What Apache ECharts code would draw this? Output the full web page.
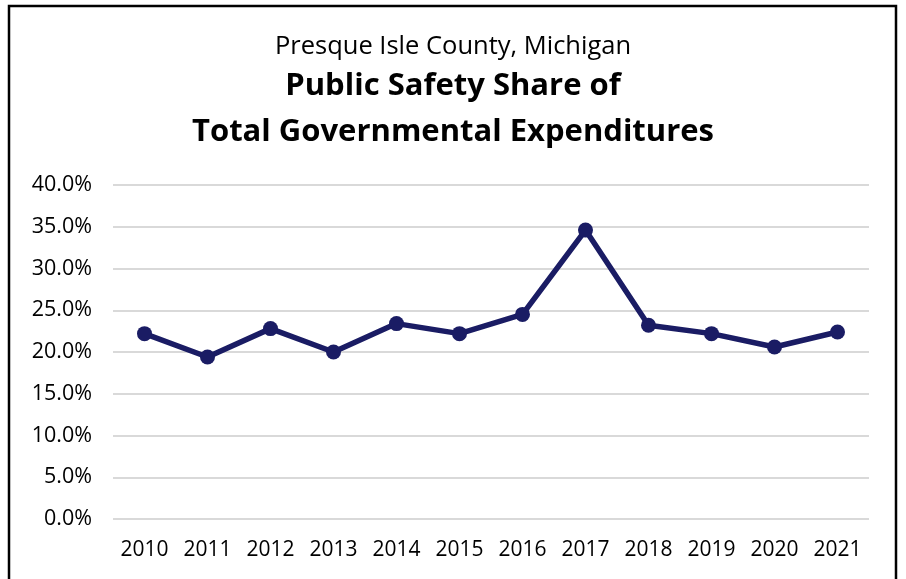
<!DOCTYPE html>
<html>
<head>
<meta charset="utf-8">
<script src="https://cdn.jsdelivr.net/npm/echarts@6/dist/echarts.min.js"></script>
<style>
  html, body { margin: 0; padding: 0; background: #fff; }
  #chart { width: 906px; height: 579px; }
</style>
</head>
<body>
<div id="chart"></div>
<script>
  // 年份
  var years = ['2010','2011','2012','2013','2014','2015','2016','2017','2018','2019','2020','2021'];
  // 公共安全占比 (%)
  var shareValues = [22.2, 19.4, 22.8, 20.0, 23.4, 22.2, 24.5, 34.6, 23.2, 22.2, 20.6, 22.4];

  var font = '"Open Sans", sans-serif';
  var chart = echarts.init(document.getElementById('chart'));
  var option = {
    animation: false,
    title: [
      {
        text: 'Presque Isle County, Michigan',
        left: 'center', top: 29,
        textStyle: { fontFamily: font, fontSize: 25.5, fontWeight: 'normal', color: '#000' }
      },
      {
        text: 'Public Safety Share of',
        left: 'center', top: 66,
        textStyle: { fontFamily: font, fontSize: 31, fontWeight: 'bold', color: '#000' }
      },
      {
        text: 'Total Governmental Expenditures',
        left: 'center', top: 112,
        textStyle: { fontFamily: font, fontSize: 31, fontWeight: 'bold', color: '#000' }
      }
    ],
    graphic: [
      {
        type: 'rect',
        shape: { x: 9, y: 6, width: 887, height: 600 },
        style: { fill: 'none', stroke: '#000', lineWidth: 2.5 },
        silent: true
      }
    ],
    grid: { left: 113, right: 37, top: 185, bottom: 60 },
    xAxis: {
      type: 'category',
      data: years,
      boundaryGap: true,
      axisLine: { show: false },
      axisTick: { show: false },
      axisLabel: { fontFamily: font, fontSize: 21, color: '#000', margin: 21 }
    },
    yAxis: {
      type: 'value',
      min: 0, max: 40, interval: 5,
      axisLine: { show: false },
      axisTick: { show: false },
      splitLine: { lineStyle: { color: '#d9d9d9', width: 2 } },
      axisLabel: {
        fontFamily: font, fontSize: 21.5, color: '#000', margin: 21,
        formatter: function (v) { return v.toFixed(1) + '%'; }
      }
    },
    series: [
      {
        type: 'line',
        data: shareValues,
        symbol: 'circle',
        symbolSize: 15,
        lineStyle: { color: '#1a1c64', width: 5.5 },
        itemStyle: { color: '#1a1c64' }
      }
    ]
  };
  chart.setOption(option);
</script>
</body>
</html>
